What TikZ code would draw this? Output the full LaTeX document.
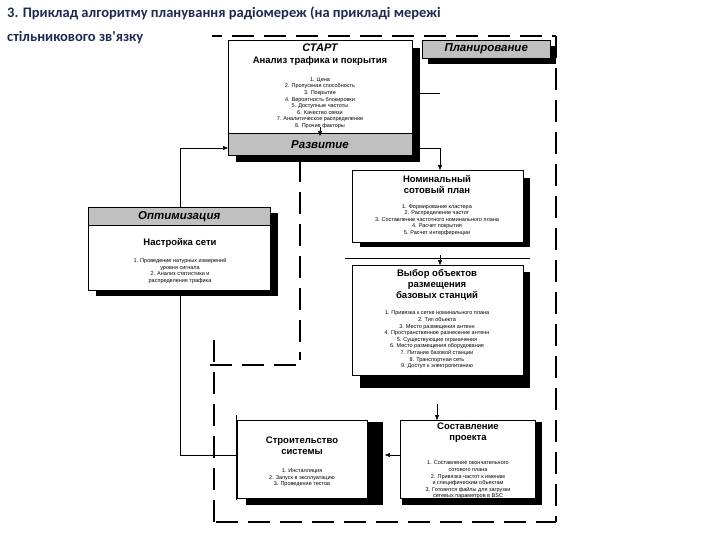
\documentclass[tikz,border=0pt]{standalone}
\usepackage{fontspec}
\setmainfont{Liberation Sans}
\newfontfamily\ttlfont{Carlito}
\usetikzlibrary{arrows.meta}
\definecolor{ttl}{HTML}{1F2A50}
\definecolor{band}{HTML}{C0C0C0}
\begin{document}
\begin{tikzpicture}[x=1pt,y=-1pt,
  box/.style={draw=black,fill=white,line width=0.3pt},
  shadow/.style={fill=black},
  hdr/.style={font=\bfseries\itshape\fontsize{11.5}{12}\selectfont},
  ttlb/.style={font=\bfseries\fontsize{9.5}{11}\selectfont,align=center},
  lst/.style={font=\fontsize{5.5}{6.6}\selectfont,align=center},
  dsh/.style={line width=1.8pt,dash pattern=on 22pt off 10pt},
  con/.style={line width=0.6pt},
  arr/.style={line width=0.6pt,-{Triangle[length=5pt,width=4pt]}}]
\useasboundingbox (0,0) rectangle (720,540);
\fill[white] (0,0) rectangle (720,540);
% dashed frame
\draw[dsh] (200,36) -- (556,36);
\draw[dsh] (556,36) -- (556,522);
\draw[dsh] (216,522) -- (556,522);
\draw[dsh] (214,522) -- (214,340);
\draw[dsh] (300,160) -- (300,360);
\draw[dsh] (210,365) -- (300,365);
% START box
\fill[shadow] (236,48) rectangle (420,162);
\node[box,minimum width=184pt,minimum height=115pt,anchor=north west,inner sep=0] (start) at (228,40) {};
\fill[band,draw=black] (228,133) rectangle (412,155);
\node[hdr] (razv) at (320,145) {Развитие};
\node[font=\bfseries\itshape\fontsize{11}{12}\selectfont] (st) at (320,48) {СТАРТ};
\node[ttlb] (an) at (320,61) {Анализ трафика и покрытия};
\node[lst] (stl) at (320,103) {1. Цена\\2. Пропускная способность\\3. Покрытие\\4. Вероятность блокировки\\5. Доступные частоты\\6. Качество связи\\7. Аналитическое распределение\\8. Прочие факторы};
\draw[arr] (320,127) -- (320,136);
% Планирование
\fill[shadow] (428,46) rectangle (556,64);
\node[fill=band,draw=black,minimum width=128pt,minimum height=18pt,inner sep=0,anchor=north west,hdr] (plan) at (422,40) {Планирование};
% Номинальный
\fill[shadow] (360,178) rectangle (530,247);
\node[box,minimum width=171pt,minimum height=72pt,anchor=north west,inner sep=0] (nom) at (352,170) {};
\node[ttlb] at (437,185) {Номинальный\\сотовый план};
\node[lst] at (437,220) {1. Формирование кластера\\2. Распределение частот\\3. Составление частотного номинального плана\\4. Расчет покрытия\\5. Расчет интерференции};
% Выбор
\fill[shadow] (360,272) rectangle (530,388);
\node[box,minimum width=171pt,minimum height=110pt,anchor=north west,inner sep=0] (vyb) at (352,265) {};
\node[ttlb] at (437,285) {Выбор объектов\\размещения\\базовых станций};
\node[lst] at (437,340) {1. Привязка к сетке номинального плана\\2. Тип объекта\\3. Место размещения антенн\\4. Пространственное разнесение антенн\\5. Существующие ограничения\\6. Место размещения оборудования\\7. Питание базовой станции\\8. Транспортная сеть\\9. Доступ к электропитанию};
% Составление
\fill[shadow] (402,422) rectangle (542,505);
\node[box,minimum width=135pt,minimum height=78pt,anchor=north west,inner sep=0] (sost) at (400,420) {};
\node[ttlb] at (468,433) {Составление\\проекта};
\node[lst] at (468,480) {1. Составление окончательного\\сотового плана\\2. Привязка частот к именам\\и специфическим объектам\\3. Готовятся файлы для загрузки\\сетевых параметров в BSC};
% Строительство
\fill[shadow] (246,422) rectangle (383,505);
\node[box,minimum width=130pt,minimum height=78pt,anchor=north west,inner sep=0] (str) at (237,420) {};
\node[ttlb] at (302,446) {Строительство\\системы};
\node[lst] at (302,478) {1. Инсталляция\\2. Запуск в эксплуатацию\\3. Проведение тестов};
% Оптимизация
\fill[shadow] (96,213) rectangle (278,296);
\node[box,minimum width=182pt,minimum height=83pt,anchor=north west,inner sep=0] (opt) at (88,207) {};
\node[fill=band,draw=black,minimum width=182pt,minimum height=18pt,inner sep=0,anchor=north west,hdr] (opth) at (88,207) {Оптимизация};
\node[ttlb] at (180,243) {Настройка сети};
\node[lst] at (180,271) {1. Проведение натурных измерений\\уровня сигнала\\2. Анализ статистики и\\распределения трафика};
% connectors
\coordinate (a1) at (440,148);
\draw[con] (412,93) -- (440,93);
\draw[con] (412,148) -- (a1);
\draw[arr] (a1) -- (nom.north -| a1);
\draw[con] (345,258) -- (530,258);
\draw[arr] (440,255) -- (vyb.north -| a1);
\draw[arr] (437,404) -- (sost.north -| 437,0);
\draw[arr] (sost.west |- 0,455) -- (385,455);
\draw[con] (236,415) -- (236,500);
\draw[con] (236,455) -- (180,455);
\draw[arr] (180,455) -- (opt.south -| 180,0);
\draw[con] (opth.north -| 180,0) -- (180,148);
\draw[arr] (180,148) -- (start.west |- 0,148);
% title
\fill[white] (0,5) rectangle (212,52);
\node[anchor=north west,inner sep=0,text=ttl,font=\ttlfont\bfseries\fontsize{14.5}{24}\selectfont,align=left] (title) at (7,7) {3. Приклад алгоритму планування радіомереж (на прикладі мережі\\стільникового зв'язку};
\end{tikzpicture}
\end{document}
